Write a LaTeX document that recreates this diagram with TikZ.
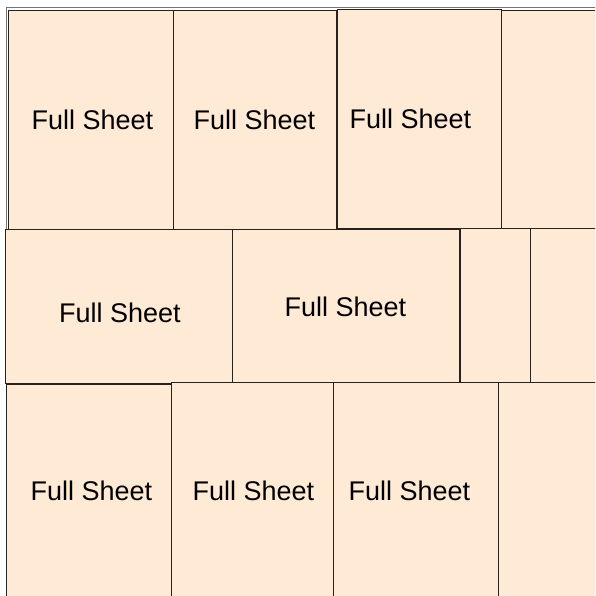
\documentclass[tikz,border=0pt]{standalone}
\usepackage{fontspec}
\setmainfont{Liberation Sans}
\usepackage{tikz}
\usetikzlibrary{positioning}
\definecolor{sheetfill}{RGB}{255,234,213}
\definecolor{sheetedge}{RGB}{40,34,30}
\tikzset{
  sheet_box/.style = {rectangle, inner sep=0pt, outer sep=0pt,
    fill=sheetfill, draw=sheetedge, line width=0.9pt},% une plaque
  sheet_label/.style = {inner sep=0pt, text=black,
    font=\fontsize{27}{30}\selectfont},% texte de plaque
  sheet_frame/.style = {draw=black!55, line width=1pt}% cadre gris
}

\begin{document}
\begin{tikzpicture}[x=1pt, y=-1pt]
      \clip (0,0) rectangle (595,596);
      \fill[white] (0,0) rectangle (595,596);
      \draw[sheet_frame] (600,7.5) -- (6.5,7.5) -- (6.5,229);
      % rangee du haut
      \node [sheet_box, minimum width=165pt, minimum height=219pt] (sheet_a) at (90.5,119.5) {};
      \node [sheet_box, minimum width=163pt, minimum height=219pt] (sheet_b) at (254.5,119.5) {};
      \node [sheet_box, minimum width=164pt, minimum height=219pt] (sheet_c) at (419,118.5) {};
      \node [sheet_box, minimum width=99pt, minimum height=218pt] (sheet_d) at (550.5,119) {};
      % rangee du milieu
      \node [sheet_box, minimum width=227pt, minimum height=154pt] (sheet_e) at (118.5,306) {};
      \node [sheet_box, minimum width=227pt, minimum height=153pt] (sheet_f) at (345.5,305.5) {};
      \node [sheet_box, minimum width=70pt, minimum height=154pt] (sheet_g) at (495,305) {};
      \node [sheet_box, minimum width=70pt, minimum height=154pt] (sheet_h) at (565,305) {};
      % rangee du bas
      \node [sheet_box, minimum width=165pt, minimum height=216pt] (sheet_i) at (88.5,492) {};
      \node [sheet_box, minimum width=162pt, minimum height=218pt] (sheet_j) at (252,491) {};
      \node [sheet_box, minimum width=165pt, minimum height=218pt] (sheet_k) at (415.5,491) {};
      \node [sheet_box, minimum width=102pt, minimum height=218pt] (sheet_l) at (549,491) {};
      % textes
      \node [sheet_label] (label_a) at ([xshift=2pt]sheet_a.center) {Full Sheet};
      \node [sheet_label] (label_b) at (sheet_b.center) {Full Sheet};
      \node [sheet_label] (label_c) at ([xshift=-8.5pt]sheet_c.center) {Full Sheet};
      \node [sheet_label] (label_e) at ([xshift=1.5pt, yshift=-6.5pt]sheet_e.center) {Full Sheet};
      \node [sheet_label] (label_f) at ([yshift=-1.5pt]sheet_f.center) {Full Sheet};
      \node [sheet_label] (label_i) at ([xshift=3pt, yshift=1pt]sheet_i.center) {Full Sheet};
      \node [sheet_label] (label_j) at ([xshift=1.5pt]sheet_j.center) {Full Sheet};
      \node [sheet_label] (label_k) at ([xshift=-6pt]sheet_k.center) {Full Sheet};
\end{tikzpicture}
\end{document}
